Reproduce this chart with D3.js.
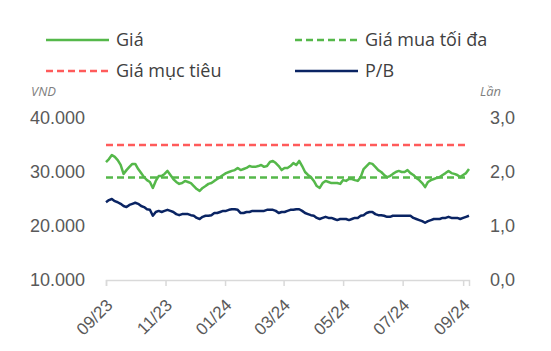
<!DOCTYPE html>
<html>
<head>
<meta charset="utf-8">
<script src="https://cdnjs.cloudflare.com/ajax/libs/d3/7.8.5/d3.min.js"></script>
<style>
  body { margin: 0; background: #fff; }
  svg { display: block; font-family: 'Open Sans', sans-serif; }
</style>
</head>
<body>
<svg id="drawing_region"></svg>
<script>
const dates = [
    '2023-09-01','2023-09-04','2023-09-07','2023-09-10','2023-09-13','2023-09-16','2023-09-19','2023-09-22','2023-09-25','2023-09-28',
    '2023-10-01','2023-10-04','2023-10-07','2023-10-10','2023-10-13','2023-10-16','2023-10-19','2023-10-22','2023-10-25','2023-10-28','2023-10-31',
    '2023-11-03','2023-11-06','2023-11-09','2023-11-12','2023-11-15','2023-11-18','2023-11-21','2023-11-24','2023-11-27','2023-11-30',
    '2023-12-03','2023-12-06','2023-12-09','2023-12-12','2023-12-15','2023-12-18','2023-12-21','2023-12-24','2023-12-27','2023-12-30',
    '2024-01-02','2024-01-05','2024-01-08','2024-01-11','2024-01-14','2024-01-17','2024-01-20','2024-01-23','2024-01-26','2024-01-29',
    '2024-02-01','2024-02-04','2024-02-07','2024-02-10','2024-02-13','2024-02-16','2024-02-19','2024-02-22','2024-02-25','2024-02-28',
    '2024-03-02','2024-03-05','2024-03-08','2024-03-11','2024-03-14','2024-03-17','2024-03-20','2024-03-23','2024-03-26','2024-03-29',
    '2024-04-01','2024-04-04','2024-04-07','2024-04-10','2024-04-13','2024-04-16','2024-04-19','2024-04-22','2024-04-25','2024-04-28',
    '2024-05-01','2024-05-04','2024-05-07','2024-05-10','2024-05-13','2024-05-16','2024-05-19','2024-05-22','2024-05-25','2024-05-28','2024-05-31',
    '2024-06-03','2024-06-06','2024-06-09','2024-06-12','2024-06-15','2024-06-18','2024-06-21','2024-06-24','2024-06-27','2024-06-30',
    '2024-07-03','2024-07-06','2024-07-09','2024-07-12','2024-07-15','2024-07-18','2024-07-21','2024-07-24','2024-07-27','2024-07-30',
    '2024-08-02','2024-08-05','2024-08-08','2024-08-11','2024-08-14','2024-08-17','2024-08-20','2024-08-23','2024-08-26','2024-08-29',
    '2024-09-01','2024-09-04','2024-09-07'
];

// Giá (VND)
const price = [
    31850,32400,33150,32800,32200,31300,29650,30350,30950,31500,
    31500,30550,29800,29050,28500,28150,27050,28350,29250,29250,29650,
    30200,29450,28700,28150,27800,27950,28350,28150,27950,27400,
    26850,26500,27050,27400,27800,27950,28350,28700,29050,29450,
    29800,30000,30200,30350,30750,30350,30550,30750,31100,30950,
    30950,31100,31300,30950,31100,31850,32050,31650,31100,30350,
    30750,30750,31100,31650,31300,32050,31100,30000,29450,29050,
    28350,27400,27050,27950,28350,28150,27950,27950,27950,27800,
    28500,28350,28700,28700,28500,28350,29050,30550,31100,31650,31500,
    30950,30350,30000,29450,29050,29250,29650,30000,30200,30000,
    30000,30350,29800,29450,28900,28500,27950,27200,28150,28500,
    28700,28900,29050,29450,29800,30200,29800,29650,29450,29050,
    29450,29800,30550
];

// P/B (lần)
const pb = [
    1.44,1.48,1.50,1.46,1.44,1.41,1.37,1.35,1.39,1.41,
    1.43,1.41,1.37,1.35,1.31,1.30,1.19,1.26,1.28,1.26,1.28,
    1.30,1.28,1.26,1.22,1.20,1.22,1.22,1.22,1.20,1.19,
    1.15,1.13,1.17,1.19,1.19,1.20,1.24,1.24,1.26,1.28,
    1.28,1.30,1.31,1.31,1.30,1.24,1.24,1.26,1.26,1.28,
    1.28,1.28,1.28,1.28,1.30,1.30,1.30,1.28,1.24,1.26,
    1.26,1.28,1.30,1.30,1.31,1.31,1.28,1.24,1.22,1.20,
    1.19,1.15,1.13,1.15,1.17,1.15,1.15,1.13,1.11,1.13,
    1.13,1.13,1.11,1.13,1.15,1.15,1.19,1.20,1.24,1.26,1.26,
    1.22,1.20,1.20,1.19,1.17,1.17,1.19,1.19,1.19,1.19,
    1.19,1.19,1.19,1.15,1.13,1.11,1.09,1.06,1.09,1.11,
    1.13,1.13,1.13,1.15,1.15,1.17,1.15,1.15,1.15,1.13,
    1.15,1.17,1.19
];

const target_price = 35000;   // Giá mục tiêu
const max_buy_price = 29000;  // Giá mua tối đa

const left_ticks = [10000, 20000, 30000, 40000];
const right_ticks = [0, 1, 2, 3];

const config = {
    parent: '#drawing_region',
    width: 551,
    height: 351,
    margin: {top: 118, right: 82, bottom: 71, left: 106}
};

const vn = d3.formatLocale({decimal: ',', thousands: '.', grouping: [3], currency: ['', '']});
const parse = d3.timeParse('%Y-%m-%d');
const data = dates.map((d, i) => ({date: parse(d), price: price[i], pb: pb[i]}));

const svg = d3.select(config.parent)
    .attr('width', config.width)
    .attr('height', config.height);

const inner_width = config.width - config.margin.left - config.margin.right;
const inner_height = config.height - config.margin.top - config.margin.bottom;

const chart = svg.append('g')
    .attr('transform', `translate(${config.margin.left}, ${config.margin.top})`);

const xscale = d3.scaleTime()
    .domain(d3.extent(data, d => d.date))
    .range([0, inner_width]);

const yleft = d3.scaleLinear()
    .domain([10000, 40000])
    .range([inner_height, 0]);

const yright = d3.scaleLinear()
    .domain([0, 3])
    .range([inner_height, 0]);

// x axis
const xaxis = d3.axisBottom(xscale)
    .ticks(d3.timeMonth.every(2))
    .tickFormat(d3.timeFormat('%m/%y'))
    .tickSize(6)
    .tickSizeOuter(6);

const xaxis_group = chart.append('g')
    .attr('transform', `translate(0, ${inner_height})`)
    .call(xaxis);
xaxis_group.selectAll('path, line').attr('stroke', '#d9d9d9').attr('stroke-width', 1.5);
xaxis_group.selectAll('text')
    .attr('fill', '#595959')
    .attr('font-size', 17)
    .attr('text-anchor', 'end')
    .attr('dy', '0.35em')
    .attr('transform', 'translate(3, 22) rotate(-45)')
    .attr('y', 0)
    .attr('x', 0);

// y axes
const yleft_group = chart.append('g')
    .call(d3.axisLeft(yleft).tickValues(left_ticks).tickFormat(vn.format(',')).tickSize(0).tickPadding(21));
const yright_group = chart.append('g')
    .attr('transform', `translate(${inner_width}, 0)`)
    .call(d3.axisRight(yright).tickValues(right_ticks).tickFormat(vn.format(',.1f')).tickSize(0).tickPadding(21));
[yleft_group, yright_group].forEach(g => {
    g.select('.domain').remove();
    g.selectAll('text').attr('fill', '#595959').attr('font-size', 18);
});

// reference lines
const x0 = xscale.range()[0], x1 = xscale.range()[1];
chart.append('line')
    .attr('x1', x0).attr('x2', x1)
    .attr('y1', yleft(target_price)).attr('y2', yleft(target_price))
    .attr('stroke', '#ff5b5b').attr('stroke-width', 2.5).attr('stroke-dasharray', '7,4');
chart.append('line')
    .attr('x1', x0).attr('x2', x1)
    .attr('y1', yleft(max_buy_price)).attr('y2', yleft(max_buy_price))
    .attr('stroke', '#55b84a').attr('stroke-width', 2.5).attr('stroke-dasharray', '7,4');

// series
chart.append('path')
    .datum(data)
    .attr('fill', 'none')
    .attr('stroke', '#55b84a')
    .attr('stroke-width', 2.5)
    .attr('stroke-linejoin', 'round')
    .attr('d', d3.line().x(d => xscale(d.date)).y(d => yleft(d.price)));

chart.append('path')
    .datum(data)
    .attr('fill', 'none')
    .attr('stroke', '#0a2463')
    .attr('stroke-width', 2.5)
    .attr('stroke-linejoin', 'round')
    .attr('d', d3.line().x(d => xscale(d.date)).y(d => yright(d.pb)));

// unit labels
svg.append('text')
    .attr('x', 31).attr('y', 96)
    .attr('font-size', 13).attr('font-style', 'italic').attr('fill', '#7f7f7f')
    .text('VND');
svg.append('text')
    .attr('x', 501).attr('y', 96)
    .attr('text-anchor', 'end')
    .attr('font-size', 13).attr('font-style', 'italic').attr('fill', '#7f7f7f')
    .text('Lần');

// legend
const legend_items = [
    {label: 'Giá', color: '#55b84a', dash: null, x: 46, y: 40},
    {label: 'Giá mua tối đa', color: '#55b84a', dash: '7,4', x: 295, y: 40},
    {label: 'Giá mục tiêu', color: '#ff5b5b', dash: '7,4', x: 46, y: 71},
    {label: 'P/B', color: '#0a2463', dash: null, x: 295, y: 71}
];
const legend = svg.append('g')
    .selectAll('g')
    .data(legend_items)
    .join('g')
    .attr('transform', d => `translate(${d.x}, ${d.y})`);
legend.append('line')
    .attr('x1', 0).attr('x2', 63)
    .attr('stroke', d => d.color)
    .attr('stroke-width', 2.5)
    .attr('stroke-dasharray', d => d.dash);
legend.append('text')
    .attr('x', 70).attr('dy', '0.35em')
    .attr('font-size', 18).attr('fill', '#404040')
    .text(d => d.label);
</script>
</body>
</html>
